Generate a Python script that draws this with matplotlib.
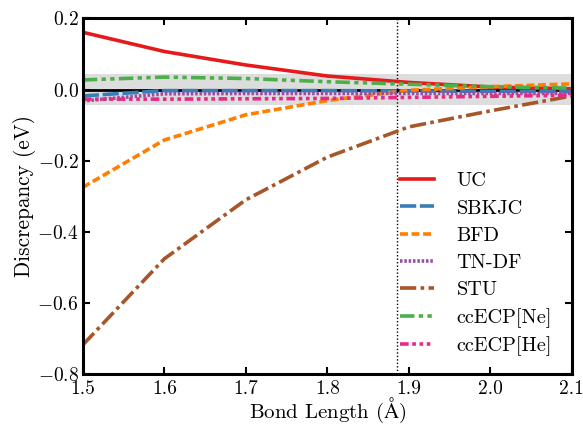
import matplotlib
matplotlib.use("Agg")
import matplotlib.pyplot as plt

plt.rcParams['font.family'] = ['cmr10', 'DejaVu Serif']
plt.rcParams['mathtext.fontset'] = 'cm'
plt.rcParams['axes.formatter.use_mathtext'] = True
plt.rcParams['axes.unicode_minus'] = True

bond = [1.5, 1.6, 1.7, 1.8, 1.9, 2.0, 2.1]
uc = [0.161, 0.107, 0.069, 0.038, 0.020, 0.007, 0.002]
sbkjc = [-0.018, -0.003, -0.003, -0.003, -0.004, -0.005, -0.006]
bfd = [-0.275, -0.142, -0.071, -0.031, -0.002, 0.008, 0.016]
tndf = [-0.032, -0.012, -0.011, -0.011, -0.011, -0.011, -0.011]
stu = [-0.718, -0.476, -0.310, -0.190, -0.105, -0.060, -0.018]
ccne = [0.027, 0.035, 0.031, 0.022, 0.015, 0.008, 0.004]
cche = [-0.027, -0.027, -0.026, -0.025, -0.022, -0.019, -0.016]
labels = ["UC", "SBKJC", "BFD", "TN-DF", "STU", "ccECP[Ne]", "ccECP[He]"]
xticks = ["1.5", "1.6", "1.7", "1.8", "1.9", "2.0", "2.1"]
yticks = ["$-0.8$", "$-0.6$", "$-0.4$", "$-0.2$", "$0.0$", "$0.2$"]
r_eq = 1.886
chem_acc = 0.0434

fig = plt.figure(figsize=(5.83, 4.28), dpi=100)
ax = fig.add_axes([0.142, 0.126, 0.839, 0.831])

ax.axhspan(-chem_acc, chem_acc, color='#dddddd', zorder=0, lw=0)
ax.axhline(0, color='black', lw=2.0, zorder=1)
ax.axvline(r_eq, color='black', lw=1.0, ls=(0, (1, 1.5)), zorder=1)

lw = 2.6
styles = [
    ('#e41a1c', '-'),
    ('#377eb8', (0, (4.5, 1.0))),
    ('#ff7f00', (0, (2.2, 1.0))),
    ('#984ea3', (0, (0.7, 0.5))),
    ('#a65628', (0, (4.5, 1.2, 1.0, 1.2))),
    ('#4daf4a', (0, (4.0, 1.2, 1.2, 1.2, 1.2, 1.2))),
    ('#e7298a', (0, (2.4, 1.0, 1.0, 1.0, 1.0, 1.0, 1.0, 1.0))),
]
series = [uc, sbkjc, bfd, tndf, stu, ccne, cche]
for s, (c, ls), lab in zip(series, styles, labels):
    ax.plot(bond, s, color=c, ls=ls, lw=lw, label=lab, zorder=2)

ax.set_xlim(1.5, 2.1)
ax.set_ylim(-0.8, 0.2)
ax.set_xticks([1.5, 1.6, 1.7, 1.8, 1.9, 2.0, 2.1])
ax.set_yticks([-0.8, -0.6, -0.4, -0.2, 0.0, 0.2])
ax.set_xticklabels(xticks)
ax.set_yticklabels(yticks)
ax.tick_params(direction='in', top=True, right=True, width=1.5, length=5,
               labelsize=14)
ax.tick_params(axis='x', pad=4)
ax.tick_params(axis='y', pad=3)
for sp in ax.spines.values():
    sp.set_linewidth(2.2)
ax.set_xlabel(r"Bond Length ($\mathrm{\AA}$)", fontsize=15, labelpad=-1)
ax.set_ylabel("Discrepancy (eV)", fontsize=15.3, labelpad=1)

leg = ax.legend(loc='lower left', frameon=False, fontsize=14.6,
                handlelength=1.7, labelspacing=0.44, handletextpad=1.1,
                borderpad=0, borderaxespad=0, bbox_to_anchor=(0.648, 0.05))

fig.savefig("out.png", dpi=100)
